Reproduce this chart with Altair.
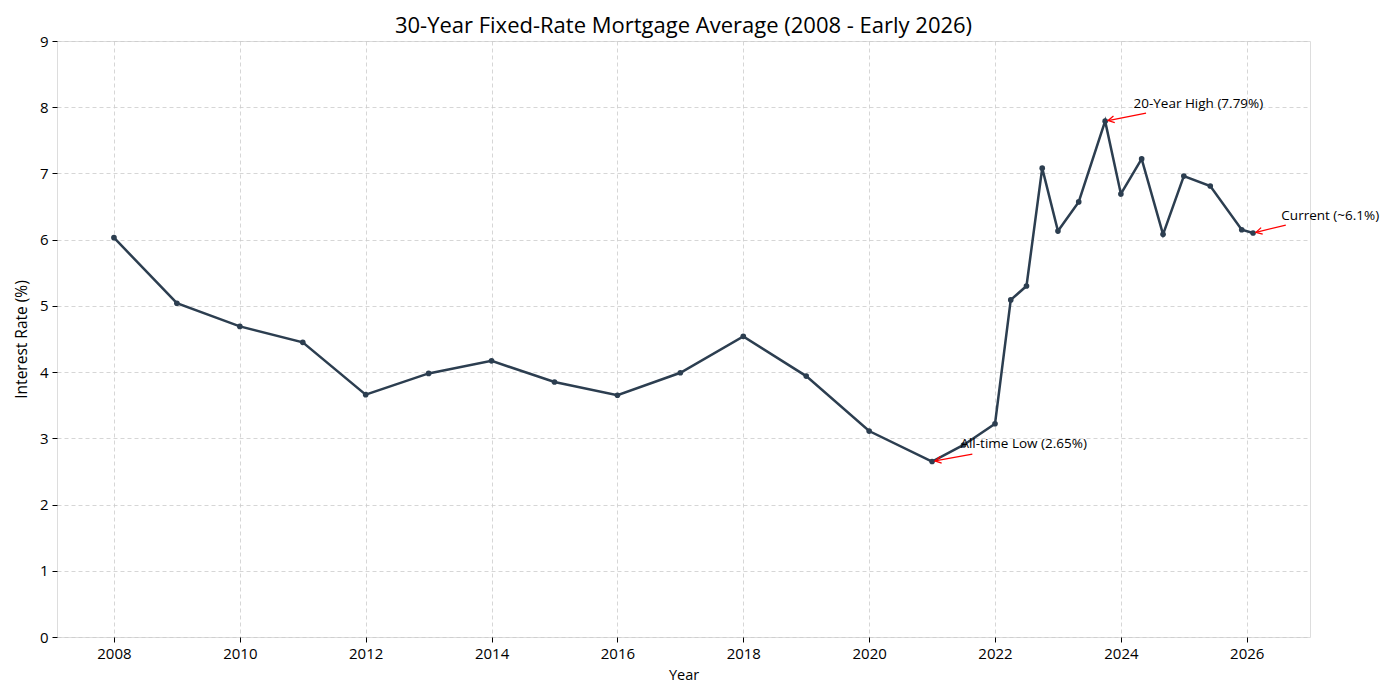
import math
import altair as alt
import pandas as pd

# ---- data ----
years = [2008, 2009, 2010, 2011, 2012, 2013, 2014, 2015, 2016, 2017, 2018, 2019, 2020,
         2021.0, 2021.5, 2022.0, 2022.25, 2022.5, 2022.75, 2023.0, 2023.33, 2023.75,
         2024.0, 2024.33, 2024.67, 2025.0, 2025.42, 2025.92, 2026.1]
rates = [6.03, 5.04, 4.69, 4.45, 3.66, 3.98, 4.17, 3.85, 3.65, 3.99, 4.54, 3.94, 3.11,
         2.65, 2.90, 3.22, 5.09, 5.30, 7.08, 6.13, 6.57, 7.79,
         6.69, 7.22, 6.08, 6.96, 6.81, 6.15, 6.10]

ann_labels = ["All-time Low (2.65%)", "20-Year High (7.79%)", "Current (~6.1%)"]
ann_x = [2021.0, 2023.75, 2026.1]
ann_y = [2.65, 7.79, 6.10]
ann_text_x = [2021.45, 2024.2, 2026.55]
ann_text_y = [2.85, 7.99, 6.30]
ann_tail_x = [2021.64, 2024.40, 2026.62]
ann_tail_y = [2.76, 7.91, 6.22]

x_ticks = list(range(2008, 2027, 2))
y_ticks = list(range(0, 10))

X_DOMAIN = [2007.095, 2027.005]
Y_DOMAIN = [0, 9]
W, H = 1253, 596

df = pd.DataFrame({"year": years, "rate": rates})

# arrow geometry (pixel scale used only to orient the arrowheads)
sx = W / (X_DOMAIN[1] - X_DOMAIN[0])
sy = H / (Y_DOMAIN[1] - Y_DOMAIN[0])
rows = []
for lab, px, py, tx, ty, ax, ay in zip(ann_labels, ann_x, ann_y, ann_text_x, ann_text_y,
                                        ann_tail_x, ann_tail_y):
    dxp = (px - ax) * sx
    dyp = -(py - ay) * sy
    L = math.hypot(dxp, dyp)
    shrink = 3.0
    hx = px - dxp / L * shrink / sx
    hy = py + dyp / L * shrink / sy
    ang = math.degrees(math.atan2(dyp, dxp)) % 360
    rows.append({"label": lab, "tx": tx, "ty": ty, "ax": ax, "ay": ay,
                 "hx": hx, "hy": hy, "angle": ang})
ann = pd.DataFrame(rows)

FONT = "Open Sans"
LINE_COLOR = "#2c3e50"

x_enc = alt.X("year:Q", title="Year",
              scale=alt.Scale(domain=X_DOMAIN, nice=False, zero=False),
              axis=alt.Axis(values=x_ticks, format="d", grid=True,
                            gridDash=[4, 3], gridColor="#cccccc", gridWidth=0.8,
                            tickColor="black", tickSize=5, domain=False,
                            labelFontSize=15, labelColor="black", labelPadding=4,
                            titleFontSize=14.5, titleColor="black", titleFontWeight="normal",
                            titlePadding=7, labelFont=FONT, titleFont=FONT))
y_enc = alt.Y("rate:Q", title="Interest Rate (%)",
              scale=alt.Scale(domain=Y_DOMAIN, nice=False),
              axis=alt.Axis(values=y_ticks, format="d", grid=True,
                            gridDash=[4, 3], gridColor="#cccccc", gridWidth=0.8,
                            tickColor="black", tickSize=5, domain=False,
                            labelFontSize=15, labelColor="black", labelPadding=4,
                            titleFontSize=15.5, titleColor="black", titleFontWeight="normal",
                            titlePadding=10, labelFont=FONT, titleFont=FONT))

base = alt.Chart(df)
line = base.mark_line(color=LINE_COLOR, strokeWidth=2.5).encode(x=x_enc, y=y_enc)
pts = base.mark_circle(color=LINE_COLOR, size=32, opacity=1).encode(x="year:Q", y="rate:Q")

annb = alt.Chart(ann)
shaft = annb.mark_rule(color="red", strokeWidth=1.3).encode(
    x="ax:Q", y="ay:Q", x2="hx:Q", y2="hy:Q")
head = annb.mark_point(shape="M-1,-0.55L0,0L-1,0.55", filled=False, color="red",
                       strokeWidth=1.3, size=150, opacity=1).encode(
    x="hx:Q", y="hy:Q", angle=alt.Angle("angle:Q", scale=None))
txt = annb.mark_text(align="left", baseline="alphabetic", fontSize=13.5, font=FONT,
                     color="black").encode(x="tx:Q", y="ty:Q", text="label:N")

chart = alt.layer(line, pts, shaft, head, txt).properties(
    width=W, height=H,
    title=alt.TitleParams("30-Year Fixed-Rate Mortgage Average (2008 - Early 2026)",
                          fontSize=22, font=FONT, fontWeight="normal", color="black",
                          anchor="middle", offset=-4),
    autosize=alt.AutoSizeParams(type="none"),
    padding={"left": 49, "top": 33, "right": 75, "bottom": 50},
).configure_view(stroke="black", strokeWidth=1.2).configure(background="white")

chart.save("out.html", embed_options={"renderer": "svg", "actions": False})
